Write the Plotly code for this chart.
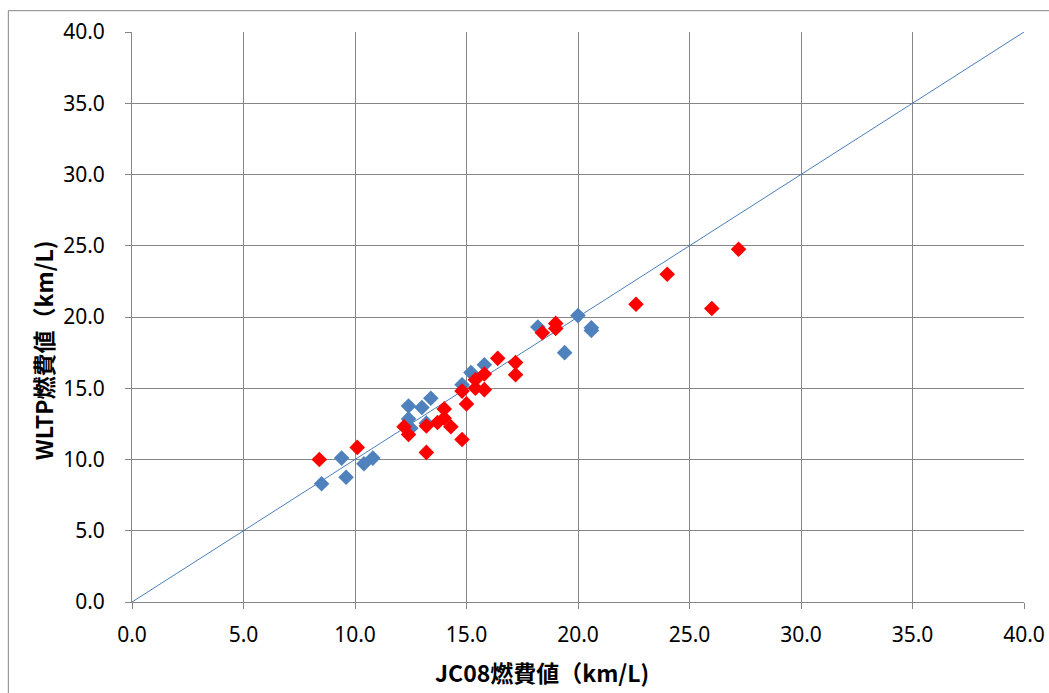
import plotly.graph_objects as go

# Blue series (JC08, WLTP)
blue_jc08 = [8.5, 9.6, 9.4, 10.4, 10.8, 12.4, 12.4, 13.0, 13.4, 13.2, 12.5, 14.8, 15.2, 15.8, 18.2, 20.0, 20.6, 20.6, 19.4]
blue_wltp = [8.3, 8.75, 10.1, 9.7, 10.1, 13.75, 12.85, 13.65, 14.3, 12.55, 12.2, 15.25, 16.1, 16.65, 19.3, 20.1, 19.25, 19.05, 17.5]

# Red series (JC08, WLTP)
red_jc08 = [8.4, 10.1, 12.2, 12.4, 13.2, 13.2, 13.7, 14.0, 14.0, 14.3, 14.8, 15.0, 14.8, 15.4, 15.8,
            15.4, 15.8, 16.4, 17.2, 17.2, 18.4, 19.0, 19.0, 22.6, 24.0, 26.0, 27.2]
red_wltp = [10.0, 10.85, 12.3, 11.75, 10.5, 12.35, 12.6, 13.55, 12.9, 12.3, 11.4, 13.9, 14.8, 15.0, 14.9,
            15.6, 16.0, 17.1, 16.8, 15.95, 18.9, 19.55, 19.2, 20.9, 23.0, 20.6, 24.75]

# Reference line y = x
line_x = [0, 40]
line_y = [0, 40]

ticks = [0, 5, 10, 15, 20, 25, 30, 35, 40]

fig = go.Figure()
fig.add_trace(go.Scatter(x=line_x, y=line_y, mode="lines",
                         line=dict(color="#4A7EBB", width=1), showlegend=False, hoverinfo="skip"))
fig.add_trace(go.Scatter(x=blue_jc08, y=blue_wltp, mode="markers",
                         marker=dict(symbol="diamond", size=12, color="#4F81BD", line=dict(width=0)),
                         showlegend=False))
fig.add_trace(go.Scatter(x=red_jc08, y=red_wltp, mode="markers",
                         marker=dict(symbol="diamond", size=12, color="#FF0000", line=dict(width=0)),
                         showlegend=False))

axis_common = dict(range=[0, 40], tickvals=ticks, tickformat=".1f",
                   showgrid=True, gridcolor="#868686", gridwidth=1,
                   showline=True, linecolor="#868686", linewidth=1,
                   ticks="outside", ticklen=6, tickcolor="#868686",
                   zeroline=False, mirror=False,
                   tickfont=dict(family="Noto Sans", size=21, color="#000000"))

fig.update_xaxes(**axis_common, ticklabelstandoff=8)
fig.update_yaxes(**axis_common, ticklabelstandoff=16)

L, R, T, B = 131.7, 1024.0, 32.3, 601.7
W, H = 1049, 693
pw, ph = R - L, B - T

def px(x):
    return (x - L) / pw

def py(y):
    return (B - y) / ph

fig.update_layout(
    width=W, height=H,
    margin=dict(l=L, r=W - R, t=T, b=H - B, autoexpand=False),
    paper_bgcolor="white", plot_bgcolor="white",
    font=dict(family="Noto Sans CJK JP", color="#000000"),
    shapes=[dict(type="rect", xref="paper", yref="paper",
                 x0=px(8), x1=px(1060), y0=py(11), y1=py(705),
                 line=dict(color="#868686", width=1), fillcolor="rgba(0,0,0,0)", layer="below")],
    annotations=[
        dict(text="<b>JC08燃費値（km/L)</b>", xref="paper", yref="paper",
             x=px(542), y=py(672), xanchor="center", yanchor="middle", showarrow=False,
             font=dict(family="Noto Sans CJK JP", size=23, color="#000000")),
        dict(text="<b>WLTP燃費値（km/L)</b>", xref="paper", yref="paper",
             x=px(43), y=py(350), xanchor="center", yanchor="middle", showarrow=False,
             textangle=-90,
             font=dict(family="Noto Sans CJK JP", size=23, color="#000000")),
    ],
)

fig.write_html("out.html")
